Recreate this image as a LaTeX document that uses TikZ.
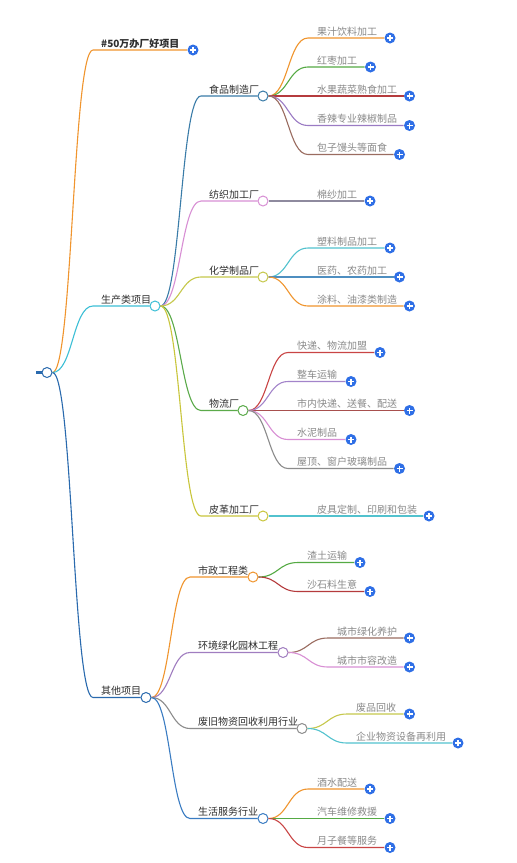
\documentclass[tikz,border=0pt]{standalone}
\usepackage{fontspec}
\setmainfont{Noto Sans CJK SC}
\usetikzlibrary{calc}
\definecolor{iconblue}{HTML}{2F6FE6}
\definecolor{cOrange}{HTML}{F0952E}
\definecolor{cCyan}{HTML}{3CBFD6}
\definecolor{cDeep}{HTML}{2A6AAE}
\definecolor{cSteel}{HTML}{3A7CA8}
\definecolor{cPink}{HTML}{D88FD4}
\definecolor{cYG}{HTML}{C6C84C}
\definecolor{cGreen}{HTML}{5BAA4A}
\definecolor{cYel}{HTML}{C9C63C}
\definecolor{cLGreen}{HTML}{55AA44}
\definecolor{cDRed}{HTML}{B53B3D}
\definecolor{cPurple}{HTML}{9B7BC4}
\definecolor{cBrown}{HTML}{9A6C60}
\definecolor{cGP}{HTML}{8E8A9E}
\definecolor{cLCyan}{HTML}{52C2CE}
\definecolor{cMBlue}{HTML}{4E8EC0}
\definecolor{cRed}{HTML}{C94545}
\definecolor{cLPurple}{HTML}{A384CA}
\definecolor{cRB}{HTML}{A8504E}
\definecolor{cGray}{HTML}{8C8C8C}
\definecolor{cViolet}{HTML}{A07DC0}
\definecolor{cBlue}{HTML}{3A7CC2}
\definecolor{txtdark}{HTML}{2E2E2E}
\definecolor{txtgray}{HTML}{8A8A8A}
\tikzset{
  conn/.style={line width=1.1pt},
  hub/.style={circle, minimum size=10pt, inner sep=0pt, fill=white, line width=1pt},
  iconnode/.style={circle, fill=iconblue, minimum size=11pt, inner sep=0pt,
    path picture={
      \draw[white, line width=1.3pt] ([xshift=-3pt]path picture bounding box.center) -- ([xshift=3pt]path picture bounding box.center);
      \draw[white, line width=1.3pt] ([yshift=-3pt]path picture bounding box.center) -- ([yshift=3pt]path picture bounding box.center);
    }},
  midtext/.style={inner sep=0pt, anchor=base west, text=txtdark, font=\fontsize{10}{12}\selectfont},
  leaftext/.style={inner sep=0pt, anchor=base west, text=txtgray, font=\fontsize{10}{12}\selectfont},
}
% #1 name, #2 parent, #3 curve end x, #4 y, #5 hub x, #6 colour, #7 text
\newcommand\mmmid[7]{%
  \coordinate (#1s) at (#3,#4);
  \node[hub, draw=#6] (#1) at (#5,#4) {};
  \node[midtext] (#1t) at (#3+8,#4-3) {#7};
  \draw[conn,#6] let \p1=(#2.east), \p2=(#1s) in
    (\p1) .. controls (\x1/2+\x2/2,\y1) and (\x1/2+\x2/2,\y2) .. (\p2) -- (#1.west);
}
% #1 name, #2 parent, #3 curve end x, #4 y, #5 icon x, #6 colour, #7 text
\newcommand\mmleaf[7]{%
  \coordinate (#1s) at (#3,#4);
  \node[iconnode] (#1i) at (#5,#4) {};
  \node[leaftext] (#1) at (#3+9,#4-3) {#7};
  \draw[conn,#6] let \p1=(#2.east), \p2=(#1s) in
    (\p1) .. controls (\x1/2+\x2/2,\y1) and (\x1/2+\x2/2,\y2) .. (\p2) -- ([xshift=-6pt]#1i.center);
}
\begin{document}
\begin{tikzpicture}[x=1pt,y=-1pt]
\useasboundingbox (0,0) rectangle (517,863);
\fill[white] (0,0) rectangle (517,863);
% root
\node[hub, draw=cDeep] (root) at (47,372.5) {};
\coordinate (stub) at (36,372.5);
\draw[cDeep, line width=2.5pt] (stub) -- (root.west);
% title branch
\coordinate (ts) at (93,50);
\node[iconnode] (ti) at (193,50) {};
\node[midtext, font=\fontsize{10}{12}\selectfont\bfseries] (title) at (101,47) {\#50万办厂好项目};
\draw[conn,cOrange] let \p1=(root.east), \p2=(ts) in
  (\p1) .. controls (\x1/2+\x2/2,\y1) and (\x1/2+\x2/2,\y2) .. (\p2) -- ([xshift=-6pt]ti.center);
% level 1
\mmmid{prod}{root}{93}{306}{155}{cCyan}{生产类项目}
\mmmid{other}{root}{93}{697.5}{146}{cDeep}{其他项目}
% production level 2
\mmmid{food}{prod}{201}{96}{263}{cSteel}{食品制造厂}
\mmmid{text}{prod}{201}{201}{263}{cPink}{纺织加工厂}
\mmmid{chem}{prod}{201}{277}{263}{cYG}{化学制品厂}
\mmmid{logi}{prod}{201}{410.5}{243}{cGreen}{物流厂}
\mmmid{leat}{prod}{201}{516}{263}{cYel}{皮革加工厂}
% food leaves
\mmleaf{f1}{food}{308}{38}{390}{cOrange}{果汁饮料加工}
\mmleaf{f2}{food}{308}{67}{370.5}{cLGreen}{红枣加工}
\mmleaf{f3}{food}{308}{96}{409.5}{cDRed}{水果蔬菜熟食加工}
\mmleaf{f4}{food}{308}{125.5}{409.5}{cPurple}{香辣专业辣椒制品}
\mmleaf{f5}{food}{308}{154.5}{399.5}{cBrown}{包子馒头等面食}
% textile
\mmleaf{t1}{text}{308}{201}{370}{cGP}{棉纱加工}
% chem
\mmleaf{c1}{chem}{308}{248}{390}{cLCyan}{塑料制品加工}
\mmleaf{c2}{chem}{308}{277}{399.5}{cMBlue}{医药、农药加工}
\mmleaf{c3}{chem}{308}{306}{409.5}{cOrange}{涂料、油漆类制造}
% logistics
\mmleaf{l1}{logi}{288}{352.5}{380}{cRed}{快递、物流加盟}
\mmleaf{l2}{logi}{288}{381.5}{351}{cLPurple}{整车运输}
\mmleaf{l3}{logi}{288}{410.5}{409.5}{cRB}{市内快递、送餐、配送}
\mmleaf{l4}{logi}{288}{439.5}{351}{cPink}{水泥制品}
\mmleaf{l5}{logi}{288}{468.5}{399.5}{cGray}{屋顶、窗户玻璃制品}
% leather
\mmleaf{p1}{leat}{308}{516}{429}{cLCyan}{皮具定制、印刷和包装}
% other level 2
\mmmid{muni}{other}{190}{577}{253}{cOrange}{市政工程类}
\mmmid{envi}{other}{190}{652.5}{283}{cViolet}{环境绿化园林工程}
\mmmid{recy}{other}{190}{728.5}{302}{cGray}{废旧物资回收利用行业}
\mmmid{life}{other}{190}{818.5}{263}{cBlue}{生活服务行业}
% municipal
\mmleaf{m1}{muni}{298}{562.5}{360}{cLGreen}{渣土运输}
\mmleaf{m2}{muni}{298}{591.5}{370}{cDRed}{沙石料生意}
% environment
\mmleaf{e1}{envi}{328}{638}{409.5}{cBrown}{城市绿化养护}
\mmleaf{e2}{envi}{328}{667}{409.5}{cPink}{城市市容改造}
% recycling
\mmleaf{r1}{recy}{347}{714}{409.5}{cYG}{废品回收}
\mmleaf{r2}{recy}{347}{743}{458}{cLCyan}{企业物资设备再利用}
% life services
\mmleaf{s1}{life}{308}{789}{370}{cOrange}{酒水配送}
\mmleaf{s2}{life}{308}{818.5}{390}{cLGreen}{汽车维修救援}
\mmleaf{s3}{life}{308}{847.5}{390}{cRed}{月子餐等服务}
\end{tikzpicture}
\end{document}
